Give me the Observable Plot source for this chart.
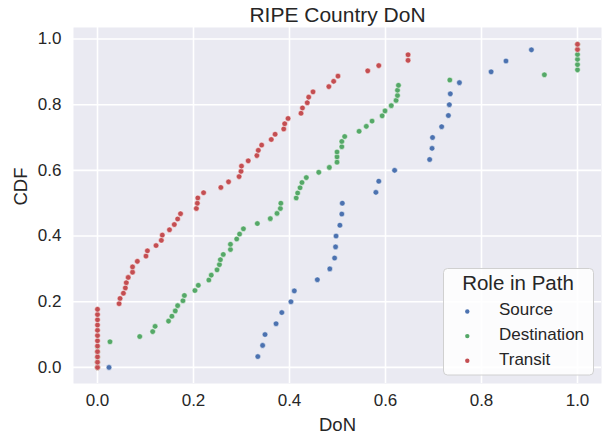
<!DOCTYPE html>
<html>
<head>
<meta charset="utf-8">
<script src="https://cdn.jsdelivr.net/npm/d3@7"></script>
<script src="https://cdn.jsdelivr.net/npm/@observablehq/plot@0.6"></script>
<style>
  body { margin: 0; background: #ffffff; }
  svg { display: block; }
</style>
</head>
<body>
<div id="chart"></div>
<script>
const titleText = "RIPE Country DoN";
const xLabel = "DoN";
const yLabel = "CDF";
const legendTitle = "Role in Path";
const roles = ["Source", "Destination", "Transit"];
const roleColors = ["#4C72B0", "#55A868", "#C44E52"];
const xTicks = [0, 0.2, 0.4, 0.6, 0.8, 1.0];
const yTicks = [0, 0.2, 0.4, 0.6, 0.8, 1.0];

const sourceDoN = [0.024, 0.334, 0.344, 0.349, 0.372, 0.384, 0.403, 0.410, 0.458, 0.484,
  0.494, 0.496, 0.497, 0.505, 0.509, 0.510, 0.580, 0.586, 0.619, 0.692,
  0.697, 0.698, 0.717, 0.731, 0.733, 0.735, 0.754, 0.820, 0.851, 0.904];
const sourceCDF = [0.000, 0.033, 0.067, 0.100, 0.133, 0.167, 0.200, 0.233, 0.267, 0.300,
  0.333, 0.367, 0.400, 0.433, 0.467, 0.500, 0.533, 0.567, 0.600, 0.633,
  0.667, 0.700, 0.733, 0.767, 0.800, 0.833, 0.867, 0.900, 0.933, 0.967];

const destinationDoN = [0, 0, 0, 0, 0, 0.026, 0.088, 0.115, 0.120, 0.148,
  0.155, 0.162, 0.167, 0.178, 0.181, 0.203, 0.210, 0.232, 0.237, 0.249,
  0.254, 0.256, 0.262, 0.277, 0.277, 0.290, 0.296, 0.304, 0.333, 0.360,
  0.374, 0.381, 0.382, 0.414, 0.417, 0.422, 0.426, 0.435, 0.461, 0.483,
  0.499, 0.499, 0.499, 0.509, 0.509, 0.515, 0.545, 0.560, 0.572, 0.593,
  0.599, 0.612, 0.622, 0.625, 0.625, 0.627, 0.734, 0.931, 1, 1,
  1, 1, 1, 1];
const destinationCDF = [0.000, 0.016, 0.031, 0.047, 0.063, 0.078, 0.094, 0.109, 0.125, 0.141,
  0.156, 0.172, 0.188, 0.203, 0.219, 0.234, 0.250, 0.266, 0.281, 0.297,
  0.313, 0.328, 0.344, 0.359, 0.375, 0.391, 0.406, 0.422, 0.438, 0.453,
  0.469, 0.484, 0.500, 0.516, 0.531, 0.547, 0.563, 0.578, 0.594, 0.609,
  0.625, 0.641, 0.656, 0.672, 0.688, 0.703, 0.719, 0.734, 0.750, 0.766,
  0.781, 0.797, 0.813, 0.828, 0.844, 0.859, 0.875, 0.891, 0.906, 0.922,
  0.938, 0.953, 0.969, 0.984];

const transitDoN = [0, 0, 0, 0, 0, 0, 0, 0, 0, 0,
  0, 0, 0.045, 0.047, 0.054, 0.058, 0.060, 0.064, 0.073, 0.073,
  0.083, 0.101, 0.104, 0.122, 0.133, 0.135, 0.150, 0.160, 0.167, 0.173,
  0.206, 0.208, 0.209, 0.221, 0.257, 0.273, 0.295, 0.299, 0.300, 0.314,
  0.332, 0.335, 0.342, 0.362, 0.370, 0.388, 0.390, 0.397, 0.424, 0.427,
  0.437, 0.440, 0.449, 0.482, 0.492, 0.501, 0.563, 0.586, 0.647, 0.647,
  1, 1];
const transitCDF = [0.000, 0.016, 0.032, 0.048, 0.065, 0.081, 0.097, 0.113, 0.129, 0.145,
  0.161, 0.177, 0.194, 0.210, 0.226, 0.242, 0.258, 0.274, 0.290, 0.306,
  0.323, 0.339, 0.355, 0.371, 0.387, 0.403, 0.419, 0.435, 0.452, 0.468,
  0.484, 0.500, 0.516, 0.532, 0.548, 0.565, 0.581, 0.597, 0.613, 0.629,
  0.645, 0.661, 0.677, 0.694, 0.710, 0.726, 0.742, 0.758, 0.774, 0.790,
  0.806, 0.823, 0.839, 0.855, 0.871, 0.887, 0.903, 0.919, 0.935, 0.952,
  0.968, 0.984];

const table = [];
[[sourceDoN, sourceCDF], [destinationDoN, destinationCDF], [transitDoN, transitCDF]]
  .forEach(([xs, ys], k) => xs.forEach((x, i) => table.push({role: roles[k], don: x, cdf: ys[i]})));

const fmt = d3.format(".1f");
const textColor = "#262626";

const chart = Plot.plot({
  width: 604,
  height: 435,
  marginLeft: 73,
  marginRight: 3,
  marginTop: 27,
  marginBottom: 52,
  style: {fontFamily: "'Liberation Sans', Arial, sans-serif", fontSize: "17px", color: textColor, background: "#ffffff"},
  x: {domain: [-0.05, 1.05], label: null},
  y: {domain: [-0.049, 1.035], label: null},
  color: {domain: roles, range: roleColors},
  marks: [
    Plot.frame({fill: "#EAEAF2", stroke: "none"}),
    Plot.gridX(xTicks, {stroke: "#ffffff", strokeOpacity: 1, strokeWidth: 1.6}),
    Plot.gridY(yTicks, {stroke: "#ffffff", strokeOpacity: 1, strokeWidth: 1.6}),
    Plot.axisX(xTicks, {tickSize: 0, tickPadding: 10, tickFormat: fmt, label: null, fill: textColor}),
    Plot.axisY(yTicks, {tickSize: 0, tickPadding: 12, tickFormat: fmt, label: null, fill: textColor}),
    Plot.dot(table, {x: "don", y: "cdf", fill: "role", r: 2.8, stroke: "#ffffff", strokeWidth: 0.5}),
    Plot.text([titleText], {text: d => d, frameAnchor: "top", lineAnchor: "middle", dy: -12, fontSize: 21, fill: textColor}),
    Plot.text([xLabel], {text: d => d, frameAnchor: "bottom", lineAnchor: "middle", dy: 42, fontSize: 18.5, fill: textColor}),
    Plot.text([yLabel], {text: d => d, frameAnchor: "left", lineAnchor: "middle", dx: -52, rotate: -90, fontSize: 18.5, fill: textColor})
  ]
});

// Legend drawn into the plot's SVG
const svg = d3.select(chart);
const lg = svg.append("g").attr("font-family", "'Liberation Sans', Arial, sans-serif").attr("fill", textColor);
lg.append("rect")
  .attr("x", 443.5).attr("y", 268.5).attr("width", 150).attr("height", 106.5)
  .attr("rx", 4).attr("fill", "#ffffff").attr("fill-opacity", 0.85)
  .attr("stroke", "#d0d0d0").attr("stroke-width", 1);
lg.append("text")
  .attr("x", 518).attr("y", 289.5).attr("text-anchor", "middle")
  .attr("font-size", 20.5).text(legendTitle);
roles.forEach((r, i) => {
  lg.append("circle")
    .attr("cx", 467.3).attr("cy", 311.5 + i * 24.6).attr("r", 2.2)
    .attr("fill", roleColors[i]);
  lg.append("text")
    .attr("x", 499).attr("y", 315.3 + i * 24.6)
    .attr("text-anchor", "start")
    .attr("font-size", 17).text(r);
});

document.getElementById("chart").appendChild(chart);
</script>
</body>
</html>
